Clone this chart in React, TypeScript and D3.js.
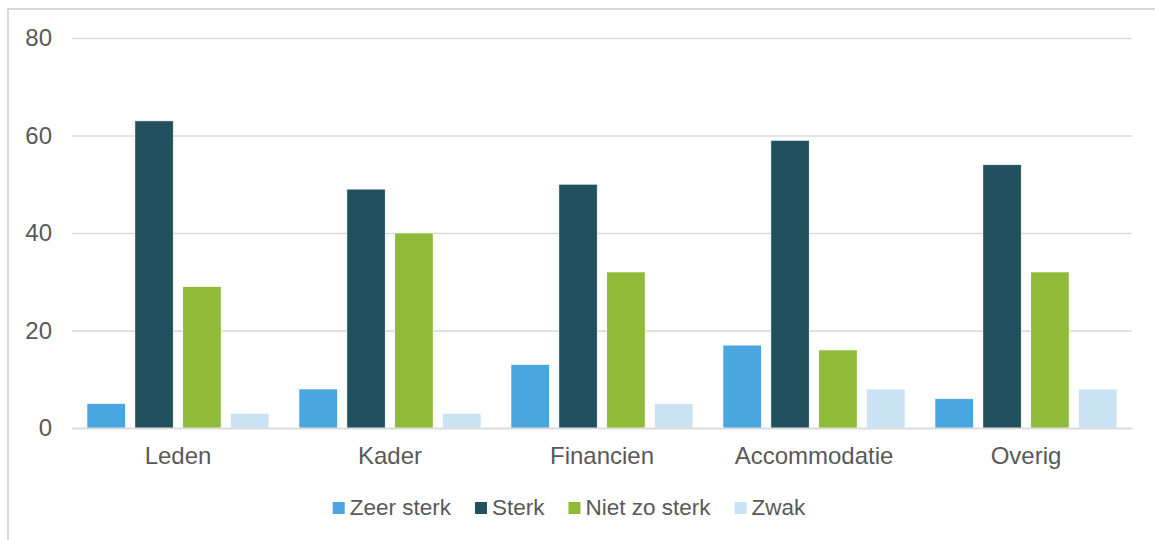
import { useEffect, useRef } from 'react'
import * as d3 from 'd3'

const W = 1155, H = 540
const M = { top: 38, right: 23, bottom: 112, left: 72 }

const CATEGORIES = ['Leden', 'Kader', 'Financien', 'Accommodatie', 'Overig']
const SERIES_NAMES = ['Zeer sterk', 'Sterk', 'Niet zo sterk', 'Zwak']
const COLORS = ['#4BA6DF', '#22505F', '#8FBB38', '#C9E3F4']

const ZEER_STERK = [5, 8, 13, 17, 6]
const STERK = [63, 49, 50, 59, 54]
const NIET_ZO_STERK = [29, 40, 32, 16, 32]
const ZWAK = [3, 3, 5, 8, 8]

const Y_TICKS = [0, 20, 40, 60, 80]

const FONT = 'Liberation Sans, Arial, sans-serif'
const FS = 24
const TEXT = '#595959'
const GRID = '#d9d9d9'

export default function App() {
  const svgRef = useRef<SVGSVGElement>(null)

  useEffect(() => {
    const svg = d3.select(svgRef.current!)
    svg.selectAll('*').remove()

    const iw = W - M.left - M.right
    const ih = H - M.top - M.bottom

    // chart frame (only top/left visible in the crop)
    svg.append('path')
      .attr('d', `M8,${H + 5} V9 H${W + 5}`)
      .attr('fill', 'none').attr('stroke', GRID).attr('stroke-width', 2)

    const g = svg.append('g').attr('transform', `translate(${M.left},${M.top})`)

    // ── scales ────────────────────────────────────────────────────────────
    const y = d3.scaleLinear().domain([0, 80]).range([ih, 0])
    const x0 = d3.scaleBand<string>().domain(CATEGORIES).range([0, iw]).padding(0)
    const x1 = d3.scaleBand<string>().domain(SERIES_NAMES)
      .range([15, x0.bandwidth() - 15]).paddingInner(0.2)

    // ── gridlines + y labels ──────────────────────────────────────────────
    g.append('g')
      .call(d3.axisLeft(y).tickValues(Y_TICKS).tickSize(-iw).tickPadding(20))
      .call(ax => {
        ax.select('.domain').remove()
        ax.selectAll('.tick line').attr('stroke', GRID).attr('stroke-width', 1.5)
        ax.selectAll('.tick text')
          .attr('font-size', FS).attr('font-family', FONT).attr('fill', TEXT)
      })

    // ── bars ──────────────────────────────────────────────────────────────
    const values = [ZEER_STERK, STERK, NIET_ZO_STERK, ZWAK]
    const rows = CATEGORIES.flatMap((c, ci) =>
      SERIES_NAMES.map((s, si) => ({ c, s, si, v: values[si][ci] })))

    g.selectAll('rect.bar')
      .data(rows)
      .join('rect').attr('class', 'bar')
      .attr('x', d => x0(d.c)! + x1(d.s)!)
      .attr('y', d => y(d.v))
      .attr('width', x1.bandwidth())
      .attr('height', d => ih - y(d.v))
      .attr('fill', d => COLORS[d.si])
      .attr('stroke', '#fff').attr('stroke-width', 0.6)

    // ── x axis ────────────────────────────────────────────────────────────
    g.append('g')
      .attr('transform', `translate(0,${ih})`)
      .call(d3.axisBottom(x0).tickSize(0).tickPadding(19))
      .call(ax => {
        ax.select('.domain').attr('stroke', GRID).attr('stroke-width', 1.5)
        ax.selectAll('.tick text')
          .attr('font-size', FS).attr('font-family', FONT).attr('fill', TEXT)
      })

    // ── legend ────────────────────────────────────────────────────────────
    const leg = svg.append('g')
    let cx = 0
    SERIES_NAMES.forEach((name, i) => {
      const it = leg.append('g')
      it.append('rect').attr('x', 0).attr('y', -13).attr('width', 12).attr('height', 12)
        .attr('fill', COLORS[i])
      const t = it.append('text').attr('x', 17).attr('y', 0)
        .attr('font-size', 22.5).attr('font-family', FONT).attr('fill', TEXT)
        .text(name)
      const w = 17 + (t.node() as SVGTextElement).getComputedTextLength()
      it.attr('transform', `translate(${cx},0)`)
      cx += w + 24
    })
    const total = cx - 24
    leg.attr('transform', `translate(${569 - total / 2},515)`)
  }, [])

  return (
    <div style={{ position: 'absolute', left: 0, top: 0 }}>
      <svg ref={svgRef} width={W} height={H} style={{ display: 'block', background: '#fff' }} />
    </div>
  )
}
